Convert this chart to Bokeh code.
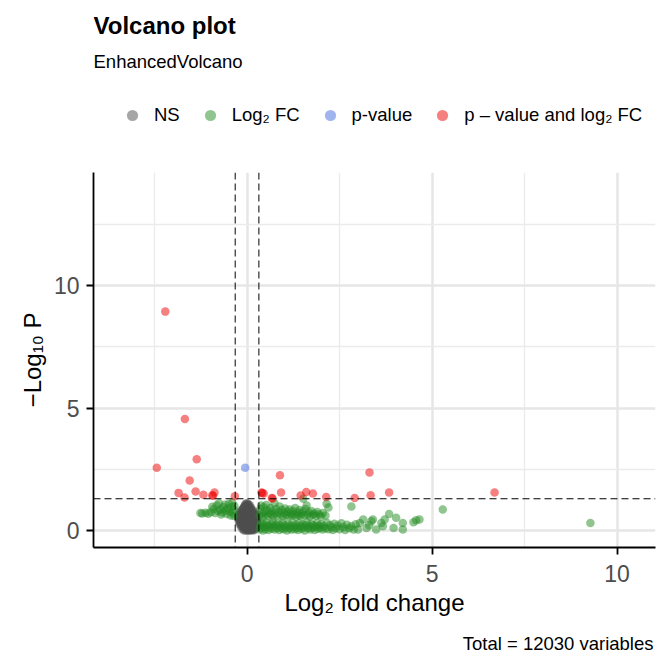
from bokeh.plotting import figure
from bokeh.layouts import column
from bokeh.models import Range1d, FixedTicker, Span, Label, Legend, LegendItem
from bokeh.embed import file_html
from bokeh.resources import INLINE

TITLE = "Volcano plot"
SUBTITLE = "EnhancedVolcano"
CAPTION = "Total = 12030 variables"
X_LABEL = "Log₂ fold change"
Y_LABEL = "−Log₁₀ P"
LEGEND_LABELS = ["NS", "Log₂ FC", "p-value", "p – value and log₂ FC"]
COLORS = ["#4d4d4d", "#228b22", "#4169e1", "#ee0000"]
X_TICKS = [0, 5, 10]
X_MINOR = [-2.5, 2.5, 7.5]
Y_TICKS = [0, 5, 10]
Y_MINOR = [2.5, 7.5, 12.5]
FC_CUTOFF = 0.32
P_CUTOFF = 1.30

NS_POINTS = [
    (-0.04, 1.10), (0.00, 1.12), (0.04, 1.08), (-0.06, 1.02), (0.02, 1.00), (0.07, 1.03),
    (-0.10, 0.92), (-0.03, 0.94), (0.04, 0.92), (0.10, 0.95), (-0.14, 0.84), (-0.07, 0.86),
    (0.00, 0.85), (0.07, 0.84), (0.14, 0.86), (-0.20, 0.76), (-0.13, 0.74), (-0.06, 0.77),
    (0.01, 0.75), (0.08, 0.78), (0.15, 0.74), (0.22, 0.76), (-0.22, 0.66), (-0.15, 0.68),
    (-0.08, 0.65), (-0.01, 0.67), (0.06, 0.64), (0.13, 0.68), (0.20, 0.65), (0.26, 0.67),
    (-0.24, 0.56), (-0.17, 0.58), (-0.10, 0.55), (-0.03, 0.57), (0.04, 0.56), (0.11, 0.58),
    (0.18, 0.55), (0.25, 0.57), (-0.23, 0.46), (-0.16, 0.48), (-0.09, 0.45), (-0.02, 0.47),
    (0.05, 0.46), (0.12, 0.48), (0.19, 0.45), (0.26, 0.47), (-0.22, 0.36), (-0.15, 0.38),
    (-0.08, 0.35), (-0.01, 0.37), (0.06, 0.36), (0.13, 0.38), (0.20, 0.35), (0.27, 0.37),
    (-0.20, 0.26), (-0.13, 0.28), (-0.06, 0.25), (0.01, 0.27), (0.08, 0.26), (0.15, 0.28),
    (0.22, 0.25), (0.28, 0.27), (-0.16, 0.16), (-0.09, 0.18), (-0.02, 0.15), (0.05, 0.17),
    (0.12, 0.16), (0.19, 0.18), (0.25, 0.15), (-0.12, 0.06), (-0.05, 0.08), (0.02, 0.04),
    (0.09, 0.07), (0.16, 0.05), (0.22, 0.08), (-0.08, 0.00), (0.00, 0.01), (0.08, 0.00),
    (0.15, 0.01),
]

NS_POINTS_DENSE = [
    (-0.02, 1.05), (0.05, 0.98), (-0.08, 0.97), (0.10, 0.88), (-0.12, 0.80), (0.02, 0.81),
    (0.11, 0.72), (-0.17, 0.71), (-0.04, 0.70), (0.18, 0.70), (-0.19, 0.61), (-0.06, 0.60),
    (0.08, 0.60), (0.22, 0.61), (-0.21, 0.51), (-0.13, 0.52), (0.00, 0.51), (0.15, 0.52),
    (0.23, 0.52), (-0.19, 0.41), (-0.05, 0.41), (0.09, 0.42), (0.23, 0.41), (-0.18, 0.31),
    (-0.04, 0.31), (0.10, 0.32), (0.24, 0.31), (-0.15, 0.21), (-0.02, 0.21), (0.12, 0.22),
    (0.21, 0.21), (-0.10, 0.11), (0.03, 0.11), (0.14, 0.11), (0.24, 0.10), (-0.03, 0.00),
    (0.11, 0.02), (0.19, 0.01),
]

NS_POINTS_CORE = [
    (0.01, 1.06), (-0.05, 0.95), (0.06, 0.90), (-0.11, 0.88), (0.12, 0.82), (-0.02, 0.78),
    (-0.15, 0.72), (0.05, 0.72), (0.19, 0.68), (-0.11, 0.63), (0.03, 0.62), (0.16, 0.62),
    (-0.20, 0.55), (-0.07, 0.53), (0.07, 0.53), (0.21, 0.54), (-0.12, 0.44), (0.02, 0.43),
    (0.16, 0.42), (0.27, 0.44), (-0.16, 0.33), (-0.03, 0.34), (0.09, 0.34), (0.22, 0.33),
    (-0.11, 0.23), (0.04, 0.24), (0.18, 0.23), (0.27, 0.22), (-0.06, 0.13), (0.08, 0.12),
    (0.20, 0.13), (-0.01, 0.06), (0.13, 0.05), (0.05, 0.00),
]

FC_UPPER_LEFT = [
    (-1.26, 0.72), (-1.21, 0.70), (-1.12, 0.73), (-1.05, 0.69), (-0.98, 0.75), (-0.94, 0.97),
    (-0.90, 0.88), (-0.86, 0.72), (-0.82, 1.02), (-0.78, 0.80), (-0.76, 1.12), (-0.72, 0.86),
    (-0.70, 0.66), (-0.67, 0.74), (-0.64, 0.95), (-0.60, 1.06), (-0.58, 0.82), (-0.55, 0.68),
    (-0.52, 0.90), (-0.49, 1.10), (-0.47, 0.78), (-0.44, 0.62), (-0.42, 0.96), (-0.40, 1.14),
    (-0.38, 0.72), (-0.36, 0.85), (-0.35, 0.60), (-0.34, 1.00),
]

FC_UPPER_RIGHT = [
    (0.34, 0.62), (0.36, 0.88), (0.38, 1.02), (0.40, 0.70), (0.42, 0.58), (0.45, 0.95),
    (0.47, 0.76), (0.50, 0.64), (0.52, 1.05), (0.55, 0.84), (0.57, 0.60), (0.60, 0.72),
    (0.63, 0.92), (0.66, 0.66), (0.68, 0.80), (0.71, 0.58), (0.74, 1.12), (0.76, 0.70),
    (0.79, 0.88), (0.82, 0.62), (0.85, 0.76), (0.88, 0.98), (0.91, 0.66), (0.94, 0.84),
    (0.97, 0.58), (1.00, 0.72), (1.03, 0.90), (1.06, 0.64), (1.09, 0.78), (1.12, 0.60),
    (1.15, 0.86), (1.18, 0.70), (1.21, 0.62), (1.24, 0.80), (1.27, 0.66), (1.30, 0.92),
    (1.33, 0.58), (1.36, 0.74), (1.39, 0.64), (1.42, 0.84), (1.45, 0.60), (1.48, 0.70),
    (1.51, 0.78), (1.52, 1.30), (1.55, 0.62), (1.58, 0.88), (1.61, 1.02), (1.64, 0.66),
    (1.67, 0.74), (1.70, 0.58), (1.74, 0.80), (1.78, 0.64), (1.82, 0.70), (1.86, 0.60),
    (1.90, 0.76), (1.95, 0.66), (2.00, 0.58), (2.05, 0.72), (2.12, 0.62), (2.15, 1.10),
    (2.20, 0.94), (2.82, 0.98),
]

FC_LOWER_RIGHT = [
    (0.34, 0.05), (0.36, 0.22), (0.38, 0.34), (0.40, 0.12), (0.43, 0.00), (0.45, 0.28),
    (0.48, 0.16), (0.50, 0.06), (0.53, 0.32), (0.56, 0.20), (0.58, 0.02), (0.61, 0.14),
    (0.64, 0.26), (0.67, 0.08), (0.70, 0.35), (0.72, 0.18), (0.75, 0.04), (0.78, 0.24),
    (0.81, 0.12), (0.84, 0.30), (0.87, 0.02), (0.90, 0.20), (0.93, 0.10), (0.96, 0.33),
    (0.99, 0.06), (1.02, 0.22), (1.05, 0.14), (1.08, 0.00), (1.11, 0.28), (1.14, 0.10),
    (1.17, 0.20), (1.20, 0.04), (1.23, 0.32), (1.26, 0.16), (1.29, 0.06), (1.32, 0.24),
    (1.35, 0.12), (1.38, 0.02), (1.41, 0.30), (1.44, 0.18), (1.47, 0.08), (1.50, 0.26),
    (1.53, 0.14), (1.56, 0.00), (1.59, 0.22), (1.62, 0.34), (1.65, 0.10), (1.68, 0.18),
    (1.71, 0.04), (1.74, 0.28), (1.77, 0.12), (1.80, 0.22), (1.83, 0.02), (1.86, 0.16),
    (1.89, 0.30), (1.92, 0.08), (1.95, 0.20), (1.98, 0.12), (2.01, 0.26), (2.04, 0.04),
    (2.08, 0.18), (2.12, 0.10), (2.16, 0.32), (2.20, 0.06), (2.24, 0.22), (2.28, 0.14),
    (2.32, 0.02), (2.36, 0.28), (2.40, 0.10), (2.45, 0.20), (2.50, 0.06), (2.55, 0.30),
    (2.60, 0.14), (2.65, 0.02), (2.70, 0.24), (2.76, 0.10), (2.82, 0.18), (2.88, 0.04),
    (2.94, 0.26), (3.00, 0.04), (3.05, 0.31), (3.14, 0.45), (3.23, 0.11), (3.30, 0.22),
    (3.36, 0.38), (3.40, 0.45), (3.49, 0.04), (3.63, 0.31), (3.67, 0.18), (3.72, 0.45),
    (3.84, 0.68), (3.96, 0.11), (4.03, 0.52), (4.21, 0.31), (4.21, 0.04), (4.50, 0.34),
    (4.57, 0.42), (4.66, 0.45), (5.29, 0.86), (9.28, 0.31),
]

P_POINTS = [(-0.05, 2.57)]

BOTH_POINTS = [
    (-2.21, 8.94), (-1.68, 4.56), (-1.36, 2.91), (-2.44, 2.57), (-1.55, 2.05), (-1.85, 1.54),
    (-1.69, 1.35), (-1.39, 1.60), (-1.18, 1.46), (-0.94, 1.44), (-0.92, 1.42), (-0.88, 1.56),
    (-0.33, 1.40), (0.39, 1.56), (0.41, 1.53), (0.45, 1.51), (0.67, 1.33), (0.69, 1.31),
    (0.89, 2.26), (0.92, 1.56), (1.45, 1.43), (1.60, 1.58), (1.78, 1.51), (2.14, 1.37),
    (2.91, 1.33), (3.31, 2.37), (3.34, 1.44), (3.84, 1.56), (6.69, 1.56),
]

FONT = "Liberation Sans"
W = 663
HEADER_H = 172
FOOTER_H = 38

groups = (NS_POINTS + NS_POINTS_DENSE + NS_POINTS_CORE,
          FC_UPPER_LEFT + FC_UPPER_RIGHT + FC_LOWER_RIGHT,
          P_POINTS, BOTH_POINTS)

# ---------- header: title, subtitle, legend ----------
# the header's ranges lie far from the data, so its key renderers draw only legend glyphs
hdr = figure(width=W, height=HEADER_H, x_range=Range1d(1000, 1001), y_range=Range1d(1000, 1001),
             x_axis_type=None, y_axis_type=None, min_border=0, title=None,
             output_backend="svg", toolbar_location=None)
hdr.outline_line_color = None
hdr.grid.visible = False

hdr.add_layout(Label(x=0, y=147, x_units="screen", y_units="screen", text=TITLE,
                     text_font=FONT, text_font_size="24px", text_font_style="bold",
                     text_color="black", text_baseline="middle", text_align="left"))
hdr.add_layout(Label(x=0, y=111, x_units="screen", y_units="screen", text=SUBTITLE,
                     text_font=FONT, text_font_size="18.5px", text_color="black",
                     text_baseline="middle", text_align="left"))

key_renderers = [hdr.scatter([a for a, b in pts], [b for a, b in pts], size=11,
                             fill_color=c, fill_alpha=0.5, line_color=None)
                 for pts, c in zip(groups, COLORS)]
legend = Legend(items=[LegendItem(label=lab, renderers=[r]) for lab, r in zip(LEGEND_LABELS, key_renderers)],
                orientation="horizontal", location=(25, 43), padding=0, margin=0,
                border_line_color=None, background_fill_alpha=0,
                label_text_font=FONT, label_text_font_size="18.5px", label_text_color="black",
                label_standoff=8, spacing=16, glyph_width=28, glyph_height=28)
hdr.add_layout(legend, "center")

# ---------- main volcano panel ----------
p = figure(frame_width=562, frame_height=375, width=W,
           min_border_left=93, min_border_right=8, min_border_top=0, min_border_bottom=80,
           x_range=Range1d(-4.15, 11.04), y_range=Range1d(-0.69, 14.62), title=None,
           output_backend="svg", toolbar_location=None)
p.outline_line_color = None

for grid in (p.xgrid, p.ygrid):
    grid.grid_line_color = "#e6e6e6"
    grid.grid_line_width = 2.5
    grid.minor_grid_line_color = "#ebebeb"
    grid.minor_grid_line_width = 1.3

p.xaxis.ticker = FixedTicker(ticks=X_TICKS, minor_ticks=X_MINOR)
p.yaxis.ticker = FixedTicker(ticks=Y_TICKS, minor_ticks=Y_MINOR)
p.xgrid.ticker = p.xaxis.ticker
p.ygrid.ticker = p.yaxis.ticker

for ax in (p.xaxis, p.yaxis):
    ax.axis_line_color = "black"
    ax.axis_line_width = 1.8
    ax.major_tick_line_color = "black"
    ax.major_tick_line_width = 1.8
    ax.major_tick_out = 7
    ax.major_tick_in = 0
    ax.minor_tick_line_color = None
    ax.major_label_text_font = FONT
    ax.major_label_text_font_size = "23px"
    ax.major_label_text_color = "#4d4d4d"
    ax.axis_label_text_font = FONT
    ax.axis_label_text_font_size = "24px"
    ax.axis_label_text_font_style = "normal"
    ax.axis_label_text_color = "black"

p.xaxis.axis_label = X_LABEL
p.yaxis.axis_label = Y_LABEL
p.xaxis.major_label_standoff = 10
p.yaxis.major_label_standoff = 7
p.xaxis.axis_label_standoff = 4
p.yaxis.axis_label_standoff = 5

for pts, col in zip(groups, COLORS):
    p.scatter([a for a, b in pts], [b for a, b in pts], size=8.5, fill_color=col,
              fill_alpha=0.5, line_color=None)

for loc in (-FC_CUTOFF, FC_CUTOFF):
    p.add_layout(Span(location=loc, dimension="height", line_color="black",
                      line_width=1, line_dash="7 4"))
p.add_layout(Span(location=P_CUTOFF, dimension="width", line_color="black",
                  line_width=1, line_dash="7 4"))

# ---------- footer: caption ----------
ftr = figure(width=W, height=FOOTER_H, x_range=Range1d(0, 1), y_range=Range1d(0, 1),
             x_axis_type=None, y_axis_type=None, min_border=0, title=None,
             output_backend="svg", toolbar_location=None)
ftr.outline_line_color = None
ftr.grid.visible = False
ftr.add_layout(Label(x=560, y=22, x_units="screen", y_units="screen", text=CAPTION,
                     text_font=FONT, text_font_size="18.5px", text_color="black",
                     text_baseline="middle", text_align="right"))

layout = column(hdr, p, ftr, spacing=0)
open("out.html", "w").write(file_html(layout, INLINE))
